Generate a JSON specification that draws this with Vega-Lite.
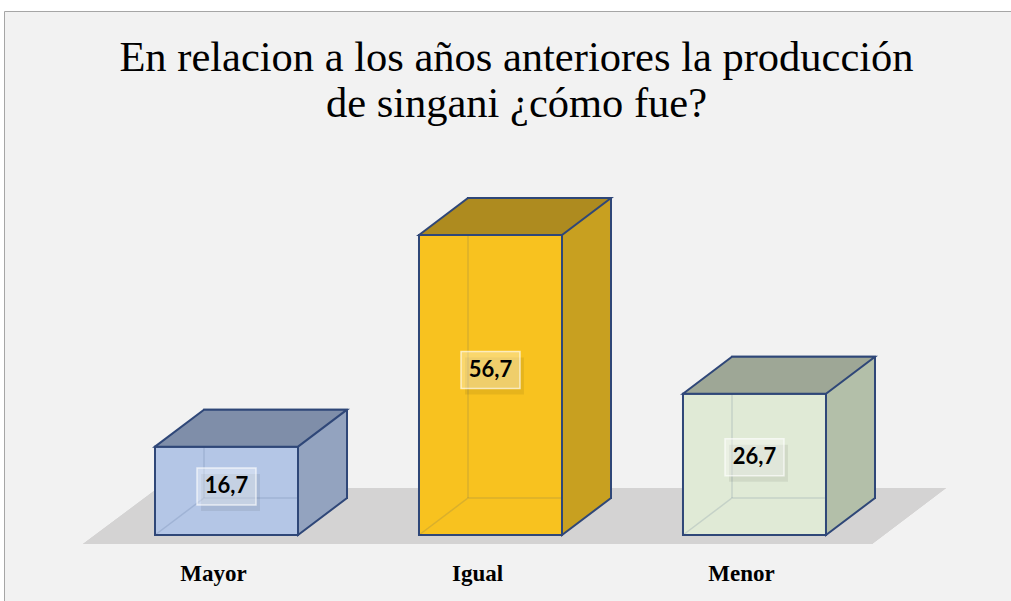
{
  "$schema": "https://vega.github.io/schema/vega-lite/v6.json",
  "width": 1007,
  "height": 590,
  "autosize": {"type": "none"},
  "padding": {"left": 4, "top": 11, "right": 0, "bottom": 0},
  "background": "#ffffff",
  "config": {
    "view": {"fill": "#f2f2f2", "stroke": "#a6a6a6", "strokeWidth": 1},
    "locale": {"number": {"decimal": ",", "thousands": ".", "grouping": [3], "currency": ["", " €"]}}
  },
  "title": {
    "text": ["En relacion a los años anteriores la producción", "de singani ¿cómo fue?"],
    "font": "Liberation Serif",
    "fontSize": 42.5,
    "fontWeight": "normal",
    "color": "#000000",
    "lineHeight": 46,
    "anchor": "middle",
    "frame": "group",
    "baseline": "top",
    "offset": -114,
    "dx": 9
  },
  "data": {
    "values": [
      {"respuesta": "Mayor", "porcentaje": 16.7},
      {"respuesta": "Igual", "porcentaje": 56.7},
      {"respuesta": "Menor", "porcentaje": 26.7}
    ]
  },
  "encoding": {
    "x": {
      "field": "respuesta",
      "type": "nominal",
      "sort": null,
      "scale": {"domain": ["Mayor", "Igual", "Menor"], "paddingInner": 0.4583, "paddingOuter": 0.6364, "align": 0.4494},
      "axis": {
        "title": null,
        "orient": "bottom",
        "offset": -21,
        "domain": false,
        "ticks": false,
        "grid": false,
        "labelPadding": 0,
        "labelBaseline": "alphabetic",
        "labelAngle": 0,
        "labelFont": "Liberation Serif",
        "labelFontSize": 23,
        "labelFontWeight": "bold",
        "labelColor": "#000000",
        "labelOffset": -13
      }
    },
    "y": {
      "field": "porcentaje",
      "type": "quantitative",
      "scale": {"domain": [-12.47, 99.04], "nice": false, "zero": false},
      "axis": null
    }
  },
  "resolve": {"scale": {"fill": "independent"}},
  "layer": [
    {
      "mark": {"type": "point", "shape": "M-407.5,9 L381.5,9 L455.5,-47 L-332.5,-47 Z", "size": 4, "filled": true, "opacity": 1, "fill": "#d4d3d3", "strokeWidth": 0},
      "encoding": {"x": {"datum": "Igual"}, "y": {"datum": 0}}
    },
    {
      "mark": {"type": "bar", "xOffset": 49, "yOffset": -37, "y2Offset": -37, "stroke": "#2f4778", "strokeWidth": 2},
      "encoding": {
        "y2": {"datum": 0},
        "fill": {"field": "respuesta", "type": "nominal", "scale": {"domain": ["Mayor", "Igual", "Menor"], "range": ["#93a3bf", "#c8a020", "#b3bfa9"]}, "legend": null}
      }
    },
    {
      "mark": {"type": "bar", "stroke": "#2f4778", "strokeWidth": 2},
      "encoding": {
        "y2": {"datum": 0},
        "fill": {"field": "respuesta", "type": "nominal", "scale": {"domain": ["Mayor", "Igual", "Menor"], "range": ["#b4c6e6", "#f8c21f", "#e0ead6"]}, "legend": null}
      }
    },
    {
      "mark": {"type": "rule", "xOffset": -22.5, "yOffset": -37, "y2Offset": -37, "strokeWidth": 1.5, "color": "#2f4778", "opacity": 0.15},
      "encoding": {"y2": {"datum": 0}}
    },
    {
      "mark": {"type": "point", "shape": "M-71.5,0 L-22.5,-37 L71.5,-37", "size": 4, "filled": false, "opacity": 1, "stroke": "#2f4778", "strokeOpacity": 0.15, "strokeWidth": 1.5},
      "encoding": {"y": {"datum": 0}}
    },
    {
      "mark": {"type": "point", "shape": "M-71.5,0 L-22.5,-37 L120.5,-37 L71.5,0 Z", "size": 4, "filled": true, "opacity": 1, "stroke": "#2f4778", "strokeWidth": 2},
      "encoding": {
        "fill": {"field": "respuesta", "type": "nominal", "scale": {"domain": ["Mayor", "Igual", "Menor"], "range": ["#7f8ea9", "#ae8b1f", "#9ea796"]}, "legend": null}
      }
    },
    {
      "mark": {"type": "point", "shape": "M120.5,-40 L120.5,-37 L71.5,0 L71.5,-40", "size": 4, "filled": true, "opacity": 1, "stroke": "#2f4778", "strokeWidth": 2},
      "encoding": {
        "y": {"datum": 0},
        "fill": {"field": "respuesta", "type": "nominal", "scale": {"domain": ["Mayor", "Igual", "Menor"], "range": ["#93a3bf", "#c8a020", "#b3bfa9"]}, "legend": null}
      }
    },
    {
      "transform": [{"calculate": "datum.porcentaje * 0.55", "as": "mid"}],
      "mark": {"type": "point", "shape": "M-25.5,-12.5 L33.5,-12.5 L33.5,24.5 L-25.5,24.5 Z", "size": 4, "filled": true, "opacity": 1, "fill": "#000000", "fillOpacity": 0.07, "strokeWidth": 0},
      "encoding": {"y": {"field": "mid", "type": "quantitative"}}
    },
    {
      "transform": [{"calculate": "datum.porcentaje * 0.55", "as": "mid"}],
      "mark": {"type": "point", "shape": "M-29.5,-18.5 L29.5,-18.5 L29.5,18.5 L-29.5,18.5 Z", "size": 4, "filled": true, "opacity": 1, "fill": "#ffffff", "fillOpacity": 0.35, "stroke": "#ffffff", "strokeOpacity": 0.65, "strokeWidth": 1.5},
      "encoding": {"y": {"field": "mid", "type": "quantitative"}}
    },
    {
      "transform": [{"calculate": "datum.porcentaje * 0.55", "as": "mid"}],
      "mark": {"type": "text", "font": "Lato", "fontSize": 22, "fontWeight": "bold", "color": "#000000", "align": "center", "baseline": "middle"},
      "encoding": {
        "y": {"field": "mid", "type": "quantitative"},
        "text": {"field": "porcentaje", "type": "quantitative", "format": ".1f"}
      }
    }
  ]
}
